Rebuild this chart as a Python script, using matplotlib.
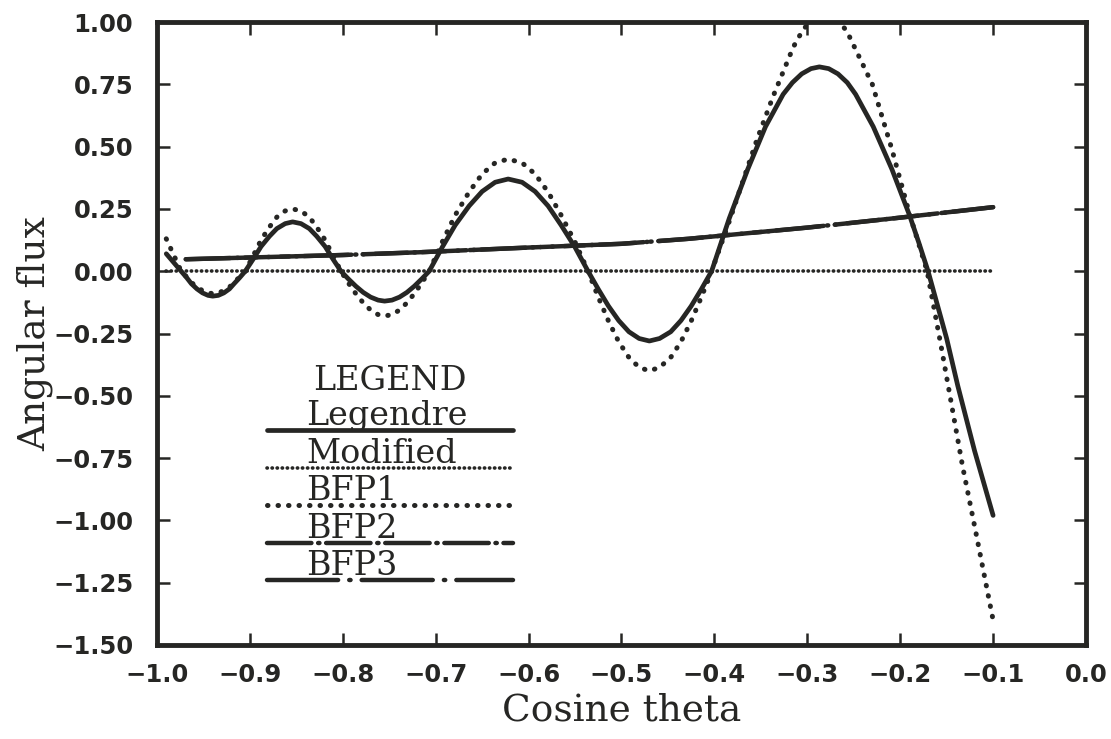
import matplotlib
matplotlib.use('Agg')
from matplotlib import pyplot as plt
from matplotlib.lines import Line2D

# values
legendre_x = [-0.990, -0.982, -0.974,
              -0.968, -0.963, -0.957, -0.951, -0.945, -0.940, -0.934, -0.928, -0.922, -0.917, -0.911, -0.905,
              -0.896, -0.888, -0.879, -0.871, -0.862, -0.854, -0.845, -0.836, -0.828, -0.819, -0.811, -0.802,
              -0.794, -0.786, -0.778, -0.770, -0.762, -0.755, -0.747, -0.739, -0.731, -0.723, -0.715, -0.707,
              -0.693, -0.679, -0.664, -0.650, -0.636, -0.622, -0.607, -0.593, -0.579, -0.565, -0.550, -0.536,
              -0.525, -0.514, -0.503, -0.492, -0.481, -0.470, -0.459, -0.447, -0.436, -0.425, -0.414, -0.403,
              -0.384, -0.364, -0.345, -0.326, -0.316, -0.306, -0.296, -0.287, -0.277, -0.267, -0.257,
              -0.248, -0.229, -0.209, -0.190, -0.180, -0.170,
              -0.160, -0.150, -0.138, -0.120, -0.100]
legendre_y = [0.07, 0.035, 0.0,
              -0.026, -0.05, -0.071, -0.087, -0.097, -0.100, -0.097, -0.087, -0.071, -0.05, -0.026, 0.0,
              0.051, 0.099, 0.140, 0.171, 0.191, 0.198, 0.191, 0.171, 0.140, 0.099, 0.051, 0.0,
              -0.031, -0.06, -0.085, -0.104, -0.116, -0.12, -0.116, -0.104, -0.085, -0.06, -0.031, 0.0,
              0.096, 0.185, 0.262, 0.32, 0.357, 0.37, 0.357, 0.32, 0.262, 0.185, 0.096, 0.0,
              -0.072, -0.14, -0.198, -0.243, -0.27, -0.28, -0.27, -0.243, -0.198, -0.14, -0.072, 0.0,
              0.212, 0.41, 0.58, 0.71, 0.757, 0.792, 0.813, 0.82, 0.813, 0.792, 0.757,
              0.71, 0.58, 0.41, 0.225, 0.115, 0.0,
              -0.135, -0.27, -0.46, -0.72, -0.98]

bfp1_x = [-0.990, -0.982, -0.974,
          -0.968, -0.963, -0.957, -0.951, -0.945, -0.940, -0.934, -0.928, -0.922, -0.917, -0.911, -0.905,
          -0.896, -0.888, -0.879, -0.871, -0.862, -0.854, -0.845, -0.836, -0.828, -0.819, -0.811, -0.802,
          -0.794, -0.786, -0.778, -0.770, -0.762, -0.755, -0.747, -0.739, -0.731, -0.723, -0.715, -0.707,
          -0.693, -0.679, -0.664, -0.650, -0.636, -0.622, -0.607, -0.593, -0.579, -0.565, -0.550, -0.536,
          -0.525, -0.514, -0.503, -0.492, -0.481, -0.470, -0.459, -0.447, -0.436, -0.425, -0.414, -0.403,
          -0.384, -0.374, -0.364, -0.354, -0.345, -0.337, -0.326, -0.315, -0.306, -0.296, -0.287, -0.277,
          -0.267, -0.257, -0.248, -0.239, -0.230, -0.209, -0.190, -0.171,
          -0.156, -0.133, -0.119, -0.100]
bfp1_y = [0.13, 0.065, 0.0,
          -0.023, -0.045, -0.064, -0.078, -0.087, -0.09, -0.087, -0.078, -0.064, -0.045, -0.023, 0.0,
          0.065, 0.125, 0.177, 0.217, 0.242, 0.25, 0.242, 0.217, 0.177, 0.125, 0.065, 0.0,
          -0.047, -0.09, -0.127, -0.156, -0.174, -0.18, -0.174, -0.156, -0.127, -0.09, -0.047, 0.0,
          0.117, 0.225, 0.318, 0.39, 0.435, 0.45, 0.435, 0.39, 0.318, 0.225, 0.117, 0.0,
          -0.104, -0.20, -0.283, -0.346, -0.386, -0.40, -0.386, -0.346, -0.283, -0.20, -0.104, 0.0,
          0.20, 0.31, 0.42, 0.53, 0.62, 0.70, 0.80, 0.90, 0.96, 1.01, 1.04, 1.04,
          1.01, 0.96, 0.89, 0.82, 0.75, 0.49, 0.23, 0.0,
          -0.30, -0.78, -1.04, -1.40]

modified_x = [-0.990, -0.100]
modified_y = [0.0, 0.0]

bfp2_x = [-0.969, -0.900, -0.800, -0.718, -0.600, -0.500, -0.428, -0.363, -0.300, -0.200, -0.100]
bfp2_y = [0.048, 0.055, 0.065, 0.076, 0.095, 0.110, 0.130, 0.153, 0.175, 0.215, 0.257]

bfp3_x = bfp2_x
bfp3_y = bfp2_y

series_names = ['Legendre', 'Modified', 'BFP1', 'BFP2', 'BFP3']
x_ticks = [-1.0, -0.9, -0.8, -0.7, -0.6, -0.5, -0.4, -0.3, -0.2, -0.1, 0.0]
y_ticks = [1.00, 0.75, 0.50, 0.25, 0.00, -0.25, -0.50, -0.75, -1.00, -1.25, -1.50]


def fmt(v, nd):
    s = '%.*f' % (nd, abs(v))
    return '\u2212' + s if v < 0 else s


ink = '#262624'
styles = {
    'Legendre': dict(ls='-', lw=3.4),
    'Modified': dict(ls=(0, (0.1, 1.3)), lw=2.6),
    'BFP1': dict(ls=(0, (0.1, 2.0)), lw=3.6),
    'BFP2': dict(ls=(0, (10, 1.5, 0.3, 1.5)), lw=3.2),
    'BFP3': dict(ls=(0, (16, 2.5, 0.3, 2.5)), lw=3.2),
}

fig = plt.figure(figsize=(11.11, 7.39), dpi=100)
ax = fig.add_axes([0.1413, 0.1272, 0.8362, 0.843])

data = {
    'Legendre': (legendre_x, legendre_y),
    'Modified': (modified_x, modified_y),
    'BFP1': (bfp1_x, bfp1_y),
    'BFP2': (bfp2_x, bfp2_y),
    'BFP3': (bfp3_x, bfp3_y),
}
for name in series_names:
    xs, ys = data[name]
    ax.plot(xs, ys, color=ink, dash_capstyle='round', solid_capstyle='round',
            solid_joinstyle='round', **styles[name])

ax.set_xlim(-1.0, 0.0)
ax.set_ylim(-1.5, 1.0)
ax.set_xticks(x_ticks)
ax.set_yticks(y_ticks)
ax.set_xticklabels([fmt(v, 1) for v in x_ticks])
ax.set_yticklabels([fmt(v, 2) for v in y_ticks])
ax.tick_params(direction='in', length=9, width=1.8, top=True, right=True, color=ink,
               labelsize=17.5, labelcolor=ink)
ax.tick_params(axis='y', pad=17)
ax.tick_params(axis='x', pad=13)
for lab in ax.get_xticklabels() + ax.get_yticklabels():
    lab.set_fontweight('bold')
    lab.set_family('DejaVu Sans')
for s in ax.spines.values():
    s.set_linewidth(3.5)
    s.set_color(ink)

ax.set_xlabel('Cosine theta', family='DejaVu Serif', fontsize=27, color=ink, labelpad=4)
ax.set_ylabel('Angular flux', family='DejaVu Serif', fontsize=27, color=ink, labelpad=0)

# hand-drawn legend block, text sitting on top of each sample line
leg_font = dict(family='DejaVu Serif', fontsize=24, color=ink)
ax.text(0.251, 0.41, 'LEGEND', transform=ax.transAxes, ha='center', va='baseline', **leg_font)
line_y = [0.345, 0.284, 0.225, 0.164, 0.104]
for name, yy in zip(series_names, line_y):
    ax.add_line(Line2D([0.118, 0.383], [yy, yy], transform=ax.transAxes, color=ink,
                       dash_capstyle='round', solid_capstyle='round', **styles[name]))
    ax.text(0.161, yy + 0.008, name, transform=ax.transAxes, ha='left', va='baseline', **leg_font)

fig.savefig('out.png', dpi=100)
